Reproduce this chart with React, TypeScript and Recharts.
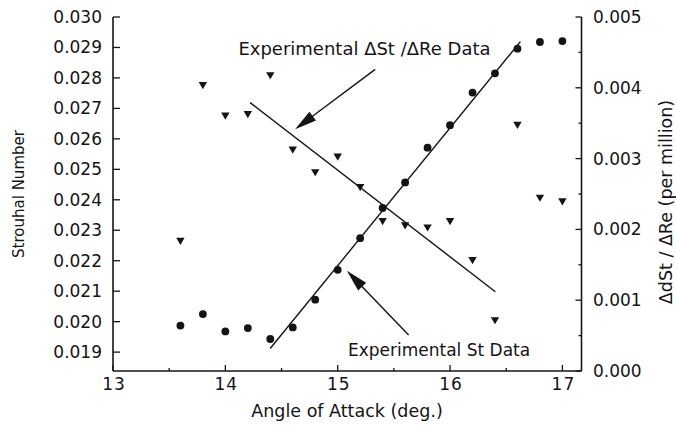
import React from 'react';
import { ComposedChart, XAxis, YAxis, Scatter, ReferenceLine, ReferenceDot } from 'recharts';

// ---- data ----
const angles = [13.6, 13.8, 14.0, 14.2, 14.4, 14.6, 14.8, 15.0, 15.2, 15.4, 15.6, 15.8, 16.0, 16.2, 16.4, 16.6, 16.8, 17.0];
const strouhal = [0.01987, 0.02025, 0.01968, 0.01979, 0.01943, 0.01981, 0.02072, 0.0217, 0.02274, 0.02373, 0.02457, 0.02571, 0.02645, 0.02752, 0.02815, 0.02896, 0.02918, 0.02921];
const dStdRe = [0.00183, 0.00403, 0.0036, 0.00362, 0.00417, 0.00312, 0.0028, 0.00302, 0.00259, 0.00211, 0.00205, 0.00202, 0.00211, 0.00156, 0.00071, 0.00347, 0.00244, 0.00239];

const xTicks = [13, 13.5, 14, 14.5, 15, 15.5, 16, 16.5, 17];
const leftTicks = [0.019, 0.02, 0.021, 0.022, 0.023, 0.024, 0.025, 0.026, 0.027, 0.028, 0.029, 0.03];
const rightTicks = [0, 0.0005, 0.001, 0.0015, 0.002, 0.0025, 0.003, 0.0035, 0.004, 0.0045, 0.005];

const xDomain = [13, 17.17];
const leftDomain = [0.01838, 0.03];
const rightDomain = [0, 0.005];

// fitted lines (end points)
const stFit = [{ x: 14.399, y: 0.01912 }, { x: 16.626, y: 0.02919 }];
const reFit = [{ x: 14.22, y: 0.00379 }, { x: 16.403, y: 0.00112 }];
// annotation arrows (tail, tip)
const reArrow = [{ x: 15.334, y: 0.004261 }, { x: 14.621, y: 0.003414 }];
const stArrow = [{ x: 15.631, y: 0.01956 }, { x: 15.082, y: 0.02167 }];
// annotation texts
const reNote = { x: 14.116, y: 0.004463, text: 'Experimental ΔSt /ΔRe Data' };
const stNote = { x: 15.091, y: 0.01887, text: 'Experimental St Data' };

const xLabel = 'Angle of Attack (deg.)';
const leftLabel = 'Strouhal Number';
const rightLabel = 'ΔdSt / ΔRe (per million)';

const stData = angles.map((a, i) => ({ angle: a, st: strouhal[i] }));
const reData = angles.map((a, i) => ({ angle: a, re: dStdRe[i] }));

const INK = '#141414';
const FONT = 'DejaVu Sans';

const isMajor = (v: number, step: number) => Math.abs(v / step - Math.round(v / step)) < 1e-6;

const XTick = (props: any) => {
  const { x, y, payload } = props;
  const v = payload.value as number;
  const major = isMajor(v, 1);
  return (
    <g>
      <line x1={x} y1={y} x2={x} y2={y - (major ? 6 : 3)} stroke={INK} strokeWidth={1.3} />
      {major && (
        <text x={x + 1} y={y + 19} textAnchor="middle" fontFamily={FONT} fontSize={17} fill={INK} letterSpacing={1}>
          {String(v)}
        </text>
      )}
    </g>
  );
};

const LeftTick = (props: any) => {
  const { x, y, payload } = props;
  const v = payload.value as number;
  return (
    <g>
      <line x1={x} y1={y} x2={x + 7} y2={y} stroke={INK} strokeWidth={1.3} />
      <text x={x - 11} y={y + 6} textAnchor="end" fontFamily={FONT} fontSize={17} fill={INK}>
        {v.toFixed(3)}
      </text>
    </g>
  );
};

const RightTick = (props: any) => {
  const { x, y, payload } = props;
  const v = payload.value as number;
  const major = isMajor(v, 0.001);
  return (
    <g>
      <line x1={x} y1={y} x2={x - (major ? 6 : 3)} y2={y} stroke={INK} strokeWidth={1.3} />
      {major && (
        <text x={x + 11.5} y={y + 6} textAnchor="start" fontFamily={FONT} fontSize={17} fill={INK}>
          {v.toFixed(3)}
        </text>
      )}
    </g>
  );
};

const CircleShape = (props: any) => {
  const { cx, cy } = props;
  return <circle cx={cx} cy={cy} r={3.9} fill={INK} />;
};

const TriangleShape = (props: any) => {
  const { cx, cy } = props;
  const w = 4.2;
  const h = 3.6;
  return <polygon points={`${cx - w},${cy - h} ${cx + w},${cy - h} ${cx},${cy + h}`} fill={INK} />;
};

const PlainLine = (props: any) => {
  const { x1, y1, x2, y2 } = props;
  return <line x1={x1} y1={y1} x2={x2} y2={y2} stroke={INK} strokeWidth={1.4} />;
};

const ArrowLine = (props: any) => {
  const { x1, y1, x2, y2 } = props;
  const dx = x2 - x1;
  const dy = y2 - y1;
  const len = Math.sqrt(dx * dx + dy * dy) || 1;
  const ux = dx / len;
  const uy = dy / len;
  const hl = 22;
  const hw = 5.5;
  const bx = x2 - ux * hl;
  const by = y2 - uy * hl;
  const px = -uy;
  const py = ux;
  return (
    <g>
      <line x1={x1} y1={y1} x2={bx + ux * 2} y2={by + uy * 2} stroke={INK} strokeWidth={1.4} />
      <polygon points={`${x2},${y2} ${bx + px * hw},${by + py * hw} ${bx - px * hw},${by - py * hw}`} fill={INK} />
    </g>
  );
};

const NoteText = (text: string, size: number) => (props: any) => {
  const { cx, cy } = props;
  return (
    <text x={cx} y={cy} fontFamily={FONT} fontSize={size} fill={INK} textAnchor="start">
      {text}
    </text>
  );
};

export default function App() {
  return (
    <div style={{ position: 'absolute', left: 0, top: 0, width: 676, height: 426, background: '#fff' }}>
      <ComposedChart width={676} height={426} margin={{ top: 17, right: 0, bottom: 0, left: 0 }}>
        <XAxis
          dataKey="angle"
          type="number"
          domain={xDomain}
          allowDataOverflow
          ticks={xTicks}
          interval={0}
          tickLine={false}
          tickSize={0}
          tickMargin={0}
          height={55}
          axisLine={{ stroke: INK, strokeWidth: 1.6 }}
          tick={XTick}
          label={{
            content: () => (
              <text x={347} y={417} textAnchor="middle" fontFamily={FONT} fontSize={17.5} fill={INK}>
                {xLabel}
              </text>
            ),
          }}
        />
        <YAxis
          yAxisId="left"
          orientation="left"
          type="number"
          domain={leftDomain}
          allowDataOverflow
          ticks={leftTicks}
          interval={0}
          width={113}
          tickLine={false}
          tickSize={0}
          tickMargin={0}
          axisLine={{ stroke: INK, strokeWidth: 1.6 }}
          tick={LeftTick}
          label={{
            content: () => (
              <text x={24} y={194} transform="rotate(-90 24 194)" textAnchor="middle" fontFamily={FONT} fontSize={15} fill={INK}>
                {leftLabel}
              </text>
            ),
          }}
        />
        <YAxis
          yAxisId="right"
          orientation="right"
          type="number"
          domain={rightDomain}
          allowDataOverflow
          ticks={rightTicks}
          interval={0}
          width={94.5}
          tickLine={false}
          tickSize={0}
          tickMargin={0}
          axisLine={{ stroke: INK, strokeWidth: 1.6 }}
          tick={RightTick}
          label={{
            content: () => (
              <text x={672} y={202} transform="rotate(-90 672 202)" textAnchor="middle" fontFamily={FONT} fontSize={17.5} fill={INK}>
                {rightLabel}
              </text>
            ),
          }}
        />

        <ReferenceLine yAxisId="left" segment={stFit} ifOverflow="visible" shape={PlainLine} />
        <ReferenceLine yAxisId="right" segment={reFit} ifOverflow="visible" shape={PlainLine} />
        <ReferenceLine yAxisId="right" segment={reArrow} ifOverflow="visible" shape={ArrowLine} />
        <ReferenceLine yAxisId="left" segment={stArrow} ifOverflow="visible" shape={ArrowLine} />

        <ReferenceDot yAxisId="right" x={reNote.x} y={reNote.y} ifOverflow="visible" shape={NoteText(reNote.text, 18)} />
        <ReferenceDot yAxisId="left" x={stNote.x} y={stNote.y} ifOverflow="visible" shape={NoteText(stNote.text, 17)} />

        <Scatter yAxisId="left" data={stData} dataKey="st" shape={CircleShape} isAnimationActive={false} />
        <Scatter yAxisId="right" data={reData} dataKey="re" shape={TriangleShape} isAnimationActive={false} />
      </ComposedChart>
    </div>
  );
}
